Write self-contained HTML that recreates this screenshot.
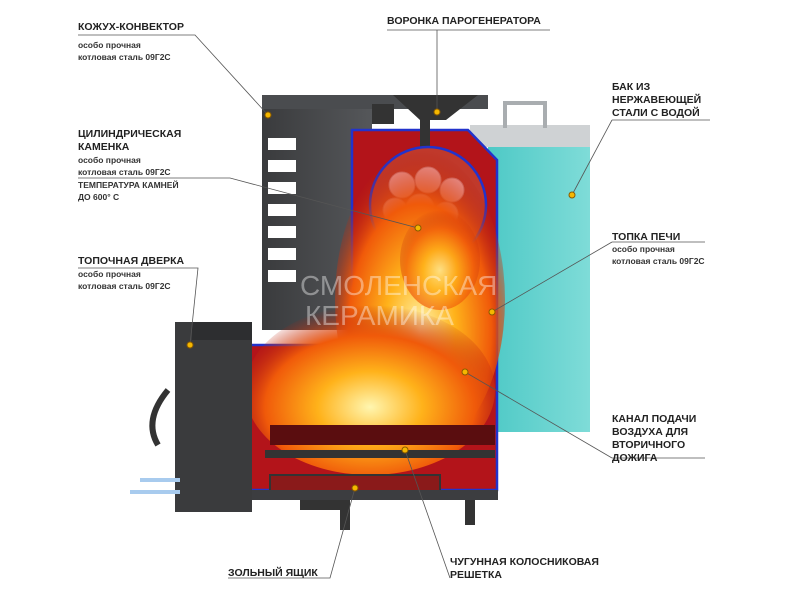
<!DOCTYPE html>
<html><head><meta charset="utf-8"><style>
html,body{margin:0;padding:0;background:#fff;}
svg{display:block;}
text{font-family:"Liberation Sans",sans-serif;fill:#222;}
.b{font-weight:bold;font-size:10.5px;}
.s{font-size:8.5px;font-weight:bold;fill:#333;}
.w{fill:#ffffff;fill-opacity:0.4;font-size:28px;}
</style></head><body>
<svg width="800" height="600" viewBox="0 0 800 600">
<defs>
<radialGradient id="fire" cx="0.5" cy="0.6" r="0.6">
<stop offset="0" stop-color="#fff6b0"/><stop offset="0.35" stop-color="#ffb21a"/><stop offset="0.7" stop-color="#f05a0a"/><stop offset="1" stop-color="#b01a10" stop-opacity="0"/>
</radialGradient>
<linearGradient id="water" x1="0" x2="1"><stop offset="0" stop-color="#4ec9c6"/><stop offset="1" stop-color="#7fdcd8"/></linearGradient>
<linearGradient id="steel" x1="0" x2="1"><stop offset="0" stop-color="#3a3b3d"/><stop offset="1" stop-color="#55575a"/></linearGradient>
</defs>
<rect x="488" y="132" width="102" height="300" fill="url(#water)"/>
<rect x="470" y="125" width="120" height="22" fill="#cfd2d4"/>
<path d="M505 128 V103 H545 V128" fill="none" stroke="#a9adb0" stroke-width="4"/>
<rect x="262" y="98" width="110" height="232" fill="url(#steel)"/>
<g fill="#fff">
<rect x="268" y="138" width="28" height="12"/><rect x="268" y="160" width="28" height="12"/><rect x="268" y="182" width="28" height="12"/><rect x="268" y="204" width="28" height="12"/><rect x="268" y="226" width="28" height="12"/><rect x="268" y="248" width="28" height="12"/><rect x="268" y="270" width="28" height="12"/>
</g>
<rect x="262" y="95" width="226" height="14" fill="#4a4c4f"/>
<rect x="372" y="104" width="22" height="20" fill="#333"/>
<path d="M352 130 H468 L497 160 V330 L497 490 H248 V345 H352 Z" fill="#b3141a" stroke="#2233cc" stroke-width="2.5"/>
<path d="M393 95 H478 L446 120 H430 V175 H420 V120 Z" fill="#333"/>
<circle cx="428" cy="205" r="58" fill="#c0392b" stroke="#2233cc" stroke-width="2.5"/>
<g fill="#f2a7a7" stroke="#d27b7b">
<circle cx="402" cy="185" r="13"/><circle cx="428" cy="180" r="13"/><circle cx="452" cy="190" r="12"/><circle cx="395" cy="210" r="12"/><circle cx="420" cy="208" r="14"/><circle cx="446" cy="214" r="12"/><circle cx="410" cy="234" r="12"/><circle cx="436" cy="238" r="12"/>
</g>
<ellipse cx="420" cy="300" rx="85" ry="150" fill="url(#fire)"/>
<ellipse cx="370" cy="390" rx="125" ry="85" fill="url(#fire)"/>
<ellipse cx="440" cy="260" rx="40" ry="50" fill="url(#fire)" opacity="0.7"/>
<rect x="270" y="425" width="225" height="20" fill="#5a0d0f"/>
<rect x="265" y="450" width="230" height="8" fill="#333"/>
<rect x="270" y="475" width="170" height="18" fill="#8a1a1a" stroke="#333" stroke-width="2"/>
<rect x="248" y="490" width="250" height="10" fill="#3c3d40"/>
<path d="M300 500 h50 v30 h-10 v-20 h-40z M465 500 h10 v25 h-10z" fill="#333"/>
<rect x="175" y="322" width="77" height="190" fill="#3a3b3d"/>
<rect x="192" y="322" width="60" height="18" fill="#2d2e30"/>
<path d="M168 390 q-25 30 -10 55" fill="none" stroke="#333" stroke-width="6"/>
<path d="M140 480 h40 M130 492 h50" stroke="#a8cbee" stroke-width="4"/>
<text class="w" x="300" y="295">СМОЛЕНСКАЯ</text>
<text class="w" x="305" y="325">КЕРАМИКА</text>
<g stroke="#555" stroke-width="0.8" fill="none">
<path d="M78 35 H195 L268 115"/>
<path d="M387 30 H550"/><path d="M437 30 V112"/>
<path d="M78 178 H230 L418 228"/>
<path d="M78 268 H198 L190 345"/>
<path d="M612 120 H710"/><path d="M612 120 L572 195"/>
<path d="M612 242 H705"/><path d="M612 242 L492 312"/>
<path d="M612 458 H705"/><path d="M612 458 L465 372"/>
<path d="M228 578 H330 L355 488"/>
<path d="M450 578 L405 450"/>
</g>
<g fill="#f5b800" stroke="#8a5a00" stroke-width="1">
<circle cx="268" cy="115" r="3"/><circle cx="437" cy="112" r="3"/><circle cx="418" cy="228" r="3"/><circle cx="190" cy="345" r="3"/><circle cx="572" cy="195" r="3"/><circle cx="492" cy="312" r="3"/><circle cx="465" cy="372" r="3"/><circle cx="355" cy="488" r="3"/><circle cx="405" cy="450" r="3"/>
</g>
<text class="b" x="78" y="30">КОЖУХ-КОНВЕКТОР</text>
<text class="s" x="78" y="48">особо прочная</text><text class="s" x="78" y="60">котловая сталь 09Г2С</text>
<text class="b" x="387" y="24">ВОРОНКА ПАРОГЕНЕРАТОРА</text>
<text class="b" x="612" y="90">БАК ИЗ</text><text class="b" x="612" y="103">НЕРЖАВЕЮЩЕЙ</text><text class="b" x="612" y="116">СТАЛИ С ВОДОЙ</text>
<text class="b" x="78" y="137">ЦИЛИНДРИЧЕСКАЯ</text><text class="b" x="78" y="150">КАМЕНКА</text>
<text class="s" x="78" y="163">особо прочная</text><text class="s" x="78" y="175">котловая сталь 09Г2С</text>
<text class="s" x="78" y="188">ТЕМПЕРАТУРА КАМНЕЙ</text><text class="s" x="78" y="200">ДО 600° С</text>
<text class="b" x="78" y="264">ТОПОЧНАЯ ДВЕРКА</text>
<text class="s" x="78" y="277">особо прочная</text><text class="s" x="78" y="289">котловая сталь 09Г2С</text>
<text class="b" x="612" y="240">ТОПКА ПЕЧИ</text>
<text class="s" x="612" y="252">особо прочная</text><text class="s" x="612" y="264">котловая сталь 09Г2С</text>
<text class="b" x="612" y="422">КАНАЛ ПОДАЧИ</text><text class="b" x="612" y="435">ВОЗДУХА ДЛЯ</text><text class="b" x="612" y="448">ВТОРИЧНОГО</text><text class="b" x="612" y="461">ДОЖИГА</text>
<text class="b" x="228" y="576">ЗОЛЬНЫЙ ЯЩИК</text>
<text class="b" x="450" y="565">ЧУГУННАЯ КОЛОСНИКОВАЯ</text><text class="b" x="450" y="578">РЕШЕТКА</text>
</svg>
</body></html>
